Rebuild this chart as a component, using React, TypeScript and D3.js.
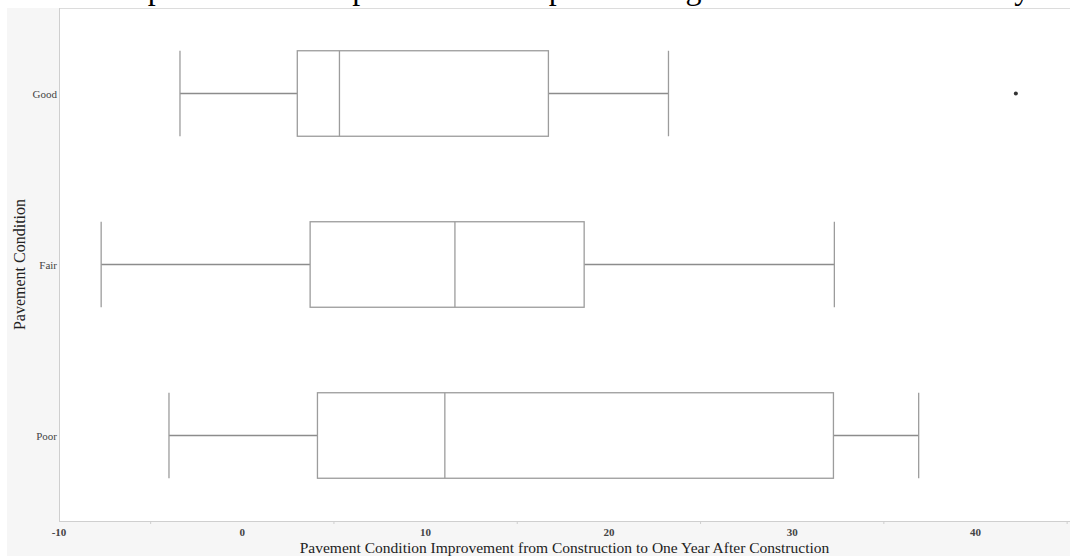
import React from "react";
import * as d3 from "d3";

// Pavement condition categories, top to bottom
const categories = ["Good", "Fair", "Poor"];
// Five-number summaries per category (improvement points)
const whiskerLow = [-3.4, -7.7, -4.0];
const quartile1 = [3.0, 3.7, 4.1];
const medians = [5.3, 11.6, 11.05];
const quartile3 = [16.7, 18.65, 32.25];
const whiskerHigh = [23.25, 32.3, 36.9];
// Outliers: [category, value]
const outlierCategory = ["Good"];
const outlierValue = [42.2];
const xTicks = [-10, 0, 10, 20, 30, 40];
const xMinorTicks = [-5, 5, 15, 25, 35, 45];

const W = 1070;
const H = 556;
const plot = { left: 59, right: 1070, top: 8, bottom: 521 };
const serif = "'Liberation Serif', 'Times New Roman', serif";

export default function App() {
  const x = d3.scaleLinear().domain([-10, 45]).range([plot.left, plot.left + 55 * 18.33]);
  const y = d3
    .scaleBand<string>()
    .domain(categories)
    .range([plot.top, plot.bottom])
    .padding(0);
  const bw = y.bandwidth();
  const boxH = bw * 0.5;
  const stroke = "#9c9c9c";

  return (
    <div style={{ position: "absolute", left: 0, top: 0 }}>
      <svg width={W} height={H} style={{ display: "block" }}>
        <rect x={0} y={0} width={W} height={H} fill="#ffffff" />
        <rect x={7} y={8} width={W - 7} height={H - 8} fill="#f6f6f6" />
        <text x={11} y={-1} fontFamily={serif} fontSize={32} fill="#000">
          that the improvement is dependent on the pre-existing condition of the roadway.
        </text>
        <rect
          x={plot.left}
          y={plot.top}
          width={plot.right - plot.left}
          height={plot.bottom - plot.top}
          fill="#ffffff"
        />
        <line x1={plot.left} x2={plot.right} y1={plot.top + 0.5} y2={plot.top + 0.5} stroke="#dcdcdc" />
        <line x1={plot.left + 0.5} x2={plot.left + 0.5} y1={plot.top} y2={plot.bottom} stroke="#cfcfcf" />
        <line x1={plot.left} x2={plot.right} y1={plot.bottom + 0.5} y2={plot.bottom + 0.5} stroke="#cfcfcf" />

        {xMinorTicks.map((t) => (
          <line
            key={"m" + t}
            x1={x(t)}
            x2={x(t)}
            y1={plot.bottom}
            y2={plot.bottom + 3}
            stroke="#cfcfcf"
          />
        ))}
        {xTicks.map((t) => (
          <text
            key={t}
            x={x(t)}
            y={536}
            textAnchor="middle"
            fontFamily={serif}
            fontSize={11}
            fontWeight="bold"
            fill="#444"
          >
            {t}
          </text>
        ))}
        <text
          x={(plot.left + 1010) / 2 + 30}
          y={553}
          textAnchor="middle"
          fontFamily={serif}
          fontSize={15.5}
          fill="#222"
        >
          Pavement Condition Improvement from Construction to One Year After Construction
        </text>

        {categories.map((c) => (
          <text
            key={c}
            x={57}
            y={(y(c) ?? 0) + bw / 2 + 4}
            textAnchor="end"
            fontFamily={serif}
            fontSize={11}
            fill="#444"
          >
            {c}
          </text>
        ))}
        <text
          transform={`translate(25, ${(plot.top + plot.bottom) / 2}) rotate(-90)`}
          textAnchor="middle"
          fontFamily={serif}
          fontSize={16}
          fill="#222"
        >
          Pavement Condition
        </text>

        {categories.map((c, i) => {
          const cy = (y(c) ?? 0) + bw / 2;
          const top = cy - boxH / 2;
          return (
            <g key={c} stroke={stroke} strokeWidth={1.3} fill="none">
              <line x1={x(whiskerLow[i])} x2={x(quartile1[i])} y1={cy} y2={cy} stroke="#8c8c8c" />
              <line x1={x(quartile3[i])} x2={x(whiskerHigh[i])} y1={cy} y2={cy} stroke="#8c8c8c" />
              <line x1={x(whiskerLow[i])} x2={x(whiskerLow[i])} y1={top} y2={top + boxH} />
              <line x1={x(whiskerHigh[i])} x2={x(whiskerHigh[i])} y1={top} y2={top + boxH} />
              <rect
                x={x(quartile1[i])}
                y={top}
                width={x(quartile3[i]) - x(quartile1[i])}
                height={boxH}
                fill="#ffffff"
              />
              <line x1={x(medians[i])} x2={x(medians[i])} y1={top} y2={top + boxH} />
            </g>
          );
        })}

        {outlierValue.map((v, i) => (
          <circle
            key={i}
            cx={x(v)}
            cy={(y(outlierCategory[i]) ?? 0) + bw / 2}
            r={2}
            fill="#333"
          />
        ))}
      </svg>
    </div>
  );
}
